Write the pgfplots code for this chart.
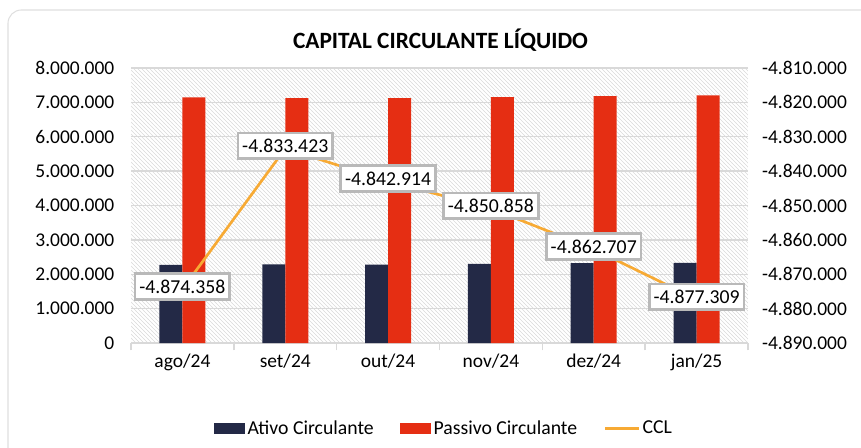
\documentclass[border=0pt]{standalone}
\usepackage{fontspec}
\setmainfont{Carlito}
\usepackage{pgfplots}
\usepackage{pgfplotstable}
\pgfplotsset{compat=1.18}
\usetikzlibrary{patterns}
\definecolor{ativo}{RGB}{35,41,70}
\definecolor{passivo}{RGB}{229,46,19}
\definecolor{ccl}{RGB}{247,170,52}
\definecolor{gridc}{RGB}{217,217,217}

\pgfplotstableread{
x ativo passivo ccl label
0 2275000 7149000 -4874358 {-4.874.358}
1 2290000 7123000 -4833423 {-4.833.423}
2 2280000 7123000 -4842914 {-4.842.914}
3 2300000 7151000 -4850858 {-4.850.858}
4 2320000 7183000 -4862707 {-4.862.707}
5 2330000 7207000 -4877309 {-4.877.309}
}\data

\pgfplotsset{
  common/.style={
    at={(98.25pt,78pt)}, anchor=south west, scale only axis,
    width=462.75pt, height=206.25pt,
    xmin=-0.5, xmax=5.5,
    tick label style={font=\fontsize{14.6}{16}\selectfont},
    /pgf/number format/assume math mode=true,
    scaled y ticks=false,
  }
}

\begin{document}
\begin{tikzpicture}
\useasboundingbox (0,0) rectangle (645.75pt,335.25pt);
\begin{scope}
\clip (0,0) rectangle (645.75pt,335.25pt);
\draw[gray!25, line width=0.8pt, rounded corners=10pt] (6pt,-10pt) -- (6pt,327.75pt) -- (660pt,327.75pt);
\end{scope}
\node[font=\bfseries\fontsize{17.5}{20}\selectfont] at (330.4pt,305.25pt) {CAPITAL CIRCULANTE LÍQUIDO};

\begin{axis}[common,
  axis background/.style={pattern=north west lines, pattern color=gray!30},
  ymin=0, ymax=8000000,
  ytick={0,1000000,2000000,3000000,4000000,5000000,6000000,7000000,8000000},
  yticklabel style={xshift=-9pt, /pgf/number format/.cd, fixed, 1000 sep={.}, assume math mode=true},
  ymajorgrids, grid style={gridc, line width=1pt},
  axis x line*=bottom, axis y line*=left,
  y axis line style={draw=none},
  x axis line style={gridc, line width=1pt},
  major tick length=0pt,
  xtick={0,1,2,3,4,5},
  xticklabels={ago/24,set/24,out/24,nov/24,dez/24,jan/25},
  xticklabel style={yshift=-5pt},
  minor xtick={-0.5,0.5,1.5,2.5,3.5,4.5,5.5},
  minor tick length=5.5pt,
  tick align=outside,
  minor tick style={gridc, line width=1pt},
  ybar=0pt, bar width=17.25pt,
]
\addplot[fill=ativo, draw=none] table[x=x,y=ativo]{\data};
\addplot[fill=passivo, draw=none] table[x=x,y=passivo]{\data};
\end{axis}

\begin{axis}[common,
  ymin=-4890000, ymax=-4810000,
  ytick={-4890000,-4880000,-4870000,-4860000,-4850000,-4840000,-4830000,-4820000,-4810000},
  yticklabel style={xshift=7pt, /pgf/number format/.cd, fixed, 1000 sep={.}, assume math mode=true},
  axis x line=none, axis y line*=right,
  y axis line style={draw=none},
  major tick length=0pt,
  legend columns=3,
  legend style={at={(0.508,-0.31)}, anchor=center, draw=none, fill=none,
    font=\fontsize{14.8}{16}\selectfont,
    /tikz/every even column/.append style={column sep=18pt}},
  legend cell align=left,
]
\addlegendimage{legend image code/.code={\fill[ativo] (0pt,-3.75pt) rectangle (22.5pt,3.75pt);}}
\addlegendimage{legend image code/.code={\fill[passivo] (0pt,-3.75pt) rectangle (22.5pt,3.75pt);}}
\addlegendimage{legend image code/.code={\draw[ccl,line width=2pt] (0pt,0pt) -- (25pt,0pt);}}
\addplot[ccl, line width=2pt, mark=none, forget plot,
  nodes near coords, point meta=explicit symbolic,
  every node near coord/.append style={anchor=center, draw=gray!55, fill=white, text=black,
    inner xsep=3.2pt, inner ysep=4.5pt, yshift=2pt, font=\fontsize{14.8}{16}\selectfont}]
  table[x=x,y=ccl,meta=label]{\data};
\legend{Ativo Circulante, Passivo Circulante, CCL}
\end{axis}
\end{tikzpicture}
\end{document}
